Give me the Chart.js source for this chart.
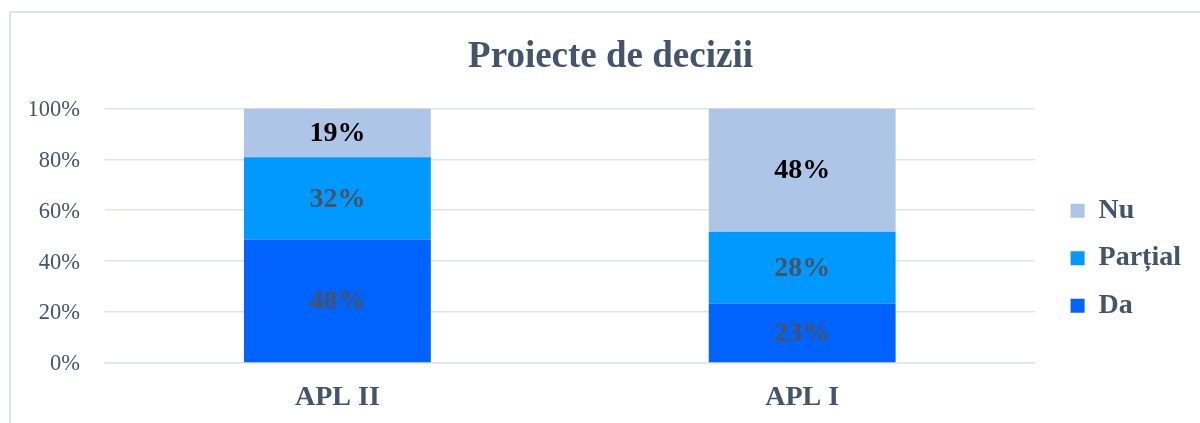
<!DOCTYPE html>
<html>
<head>
<meta charset="utf-8">
<script src="https://cdn.jsdelivr.net/npm/chart.js@4"></script>
<style>
  html, body { margin: 0; padding: 0; background: #fff; overflow: hidden; }
  #frame {
    position: absolute; left: 9px; top: 11px; width: 1300px; height: 500px;
    border-left: 2px solid #dde3ec; border-top: 2px solid #dde3ec;
  }
  #wrap { position: absolute; left: 11px; top: 13px; }
</style>
</head>
<body>
<div id="frame"></div>
<div id="wrap"><canvas id="chart" width="1200" height="410"></canvas></div>
<script>
/* ------------------------------------------
 * DATA
 * ------------------------------------------ */
const categories = ["APL II", "APL I"];
const seriesNames = ["Da", "Parțial", "Nu"];
const daValues = [48, 23];
const partialValues = [32, 28];
const nuValues = [19, 48];
const yTickValues = [0, 20, 40, 60, 80, 100];

const seriesColors = ["#0062ff", "#0099ff", "#adc5e7"];
const labelColors = ["#4a5260", "#4a5260", "#000000"];
const TEXT = "#44546a";
const GRID = "#dfe3ea";
const SERIF = "'Liberation Serif', 'Times New Roman', serif";

// 100% stacked: each category normalised by its own total
const totals = categories.map((_, i) => daValues[i] + partialValues[i] + nuValues[i]);
const share = arr => arr.map((v, i) => (v / totals[i]) * 100);

const rawSeries = [daValues, partialValues, nuValues];

/* ------------------------------------------
 * VALUE LABELS PLUGIN
 * ------------------------------------------ */
const valueLabels = {
  id: "valueLabels",
  afterDatasetsDraw(chart) {
    const { ctx } = chart;
    ctx.save();
    ctx.font = `bold 28px ${SERIF}`;
    ctx.textAlign = "center";
    ctx.textBaseline = "middle";
    chart.data.datasets.forEach((ds, i) => {
      chart.getDatasetMeta(i).data.forEach((bar, j) => {
        const { x, y } = bar.getCenterPoint();
        ctx.fillStyle = labelColors[i];
        ctx.fillText(`${rawSeries[i][j]}%`, x, y + 1);
      });
    });
    ctx.restore();
  }
};

/* ------------------------------------------
 * CHART
 * ------------------------------------------ */
new Chart(document.getElementById("chart"), {
  type: "bar",
  data: {
    labels: categories,
    datasets: rawSeries.map((vals, i) => ({
      label: seriesNames[i],
      data: share(vals),
      backgroundColor: seriesColors[i],
      borderWidth: 0,
      categoryPercentage: 1,
      barPercentage: 0.402
    }))
  },
  options: {
    responsive: false,
    animation: false,
    layout: { padding: { left: 19, right: 20, top: 0, bottom: 0 } },
    plugins: {
      title: {
        display: true,
        text: "Proiecte de decizii",
        color: TEXT,
        font: { family: SERIF, size: 37, weight: "bold" },
        padding: { top: 22, bottom: 29 }
      },
      legend: {
        position: "right",
        reverse: true,
        fullSize: false,
        // empty title only pushes the items down a little
        title: { display: true, text: "", font: { size: 10, lineHeight: 1.6 }, padding: { top: 29, bottom: 0 } },
        labels: {
          boxWidth: 14,
          boxHeight: 14,
          padding: 19.5,
          color: TEXT,
          font: { family: SERIF, size: 28, weight: "bold" }
        }
      },
      tooltip: { enabled: false }
    },
    scales: {
      x: {
        stacked: true,
        grid: { display: false, drawTicks: false },
        border: { display: true, color: GRID, width: 1.5 },
        ticks: {
          color: TEXT,
          padding: 18,
          font: { family: SERIF, size: 28, weight: "bold" }
        },
        afterFit: s => { s.height = 60; }
      },
      y: {
        stacked: true,
        min: 0,
        max: 100,
        afterBuildTicks: s => { s.ticks = yTickValues.map(v => ({ value: v })); },
        grid: { color: GRID, lineWidth: 1.5, drawTicks: false },
        border: { display: false },
        ticks: {
          color: TEXT,
          padding: 25,
          labelOffset: 1.5,
          font: { family: SERIF, size: 22.5 },
          callback: v => v + "%"
        },
        afterFit: s => { s.width = 75; }
      },
      yRight: {
        position: "right",
        display: true,
        grid: { display: false },
        border: { display: false },
        ticks: { display: false },
        afterFit: s => { s.width = 16.5; }
      }
    }
  },
  plugins: [valueLabels]
});
</script>
</body>
</html>
